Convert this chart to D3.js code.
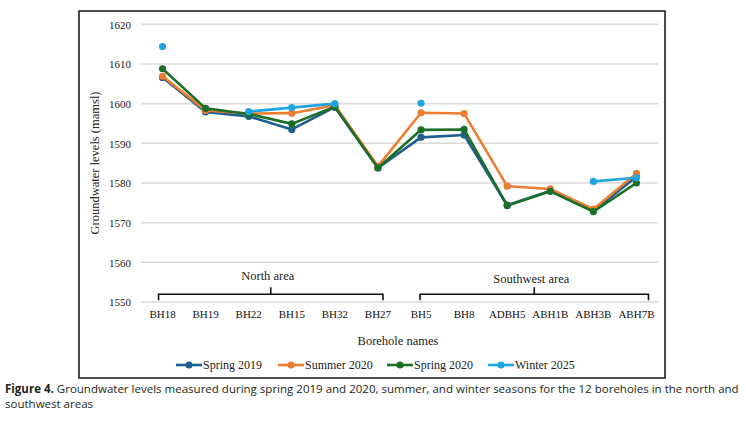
<!DOCTYPE html>
<html><head><meta charset="utf-8">
<script src="https://cdn.jsdelivr.net/npm/d3@7/dist/d3.min.js"></script>
<style>
body{margin:0;background:#fff;}
svg{display:block;}
</style></head>
<body>
<svg id="chart" width="746" height="424"></svg>
<script>
const categories = ["BH18","BH19","BH22","BH15","BH32","BH27","BH5","BH8","ADBH5","ABH1B","ABH3B","ABH7B"];
const spring2019 = [1606.6,1597.9,1596.8,1593.5,1599.1,1583.8,1591.5,1592.1,1574.4,1578.0,1573.0,1581.6];
const summer2020 = [1606.9,1598.3,1597.5,1597.6,1599.6,1584.2,1597.7,1597.5,1579.2,1578.5,1573.4,1582.4];
const spring2020 = [1608.8,1598.8,1597.4,1594.9,1599.2,1583.8,1593.4,1593.5,1574.3,1577.9,1572.8,1580.0];
const winter2025 = [1614.4,null,1598.0,1599.0,1600.0,null,1600.1,null,null,null,1580.4,1581.3];
const yTicks = [1550,1560,1570,1580,1590,1600,1610,1620];
const seriesNames = ["Spring 2019","Summer 2020","Spring 2020","Winter 2025"];
const seriesColors = ["#1f5f8e","#ed7d31","#1b6f27","#1fa5df"];
const areas = [
  {name:"North area", from:"BH18", to:"BH27"},
  {name:"Southwest area", from:"BH5", to:"ABH7B"}
];

const svg = d3.select("#chart");
const serif = "'Liberation Serif','Times New Roman',serif";

// frame
svg.append("rect").attr("x",79).attr("y",11).attr("width",586).attr("height",367)
  .attr("fill","none").attr("stroke","#111").attr("stroke-width",1.5);

const x = d3.scaleBand().domain(categories).range([141,658]);
const cx = d => x(d) + x.bandwidth()/2;
const y = d3.scaleLinear().domain([1550,1620]).range([302,24.3]);

// grid
svg.append("g").selectAll("line").data(yTicks).join("line")
  .attr("x1",141).attr("x2",658).attr("y1",d=>y(d)).attr("y2",d=>y(d))
  .attr("stroke","#d9d9d9").attr("stroke-width",1.5);

// y axis labels
const yAxis = d3.axisLeft(y).tickValues(yTicks).tickSize(0).tickPadding(0).tickFormat(d3.format("d"));
const gy = svg.append("g").attr("transform","translate(131,0)").call(yAxis);
gy.select(".domain").remove();
gy.selectAll("text").attr("font-family",serif).attr("font-size",11).attr("fill","#222").attr("dy","0.35em");

// x axis labels
const xAxis = d3.axisBottom(x).tickSize(0).tickPadding(0);
const gx = svg.append("g").attr("transform","translate(0,310)").call(xAxis);
gx.select(".domain").remove();
gx.selectAll("text").attr("font-family",serif).attr("font-size",11).attr("fill","#111").attr("dy","0.71em");

// axis titles
svg.append("text").attr("transform","translate(99,163) rotate(-90)").attr("text-anchor","middle")
  .attr("font-family",serif).attr("font-size",12.5).attr("fill","#222").text("Groundwater levels (mamsl)");
svg.append("text").attr("x",398).attr("y",345).attr("text-anchor","middle")
  .attr("font-family",serif).attr("font-size",12.5).attr("fill","#222").text("Borehole names");

// brackets
const bracketPad = [[-4,5],[-1,12]];
areas.forEach((a,i)=>{
  const x1 = cx(a.from)+bracketPad[i][0], x2 = cx(a.to)+bracketPad[i][1];
  const by = 294.3, mid = (x1+x2)/2;
  svg.append("path").attr("d",`M${x1},${by+6}V${by}H${x2}V${by+6}M${mid},${by}V${by-7}`)
    .attr("fill","none").attr("stroke","#111").attr("stroke-width",1.6);
  svg.append("text").attr("x",mid-3).attr("y",i===0?279.5:282.5).attr("text-anchor","middle")
    .attr("font-family",serif).attr("font-size",12.5).attr("fill","#222").text(a.name);
});

// series
const allSeries = [spring2019,summer2020,spring2020,winter2025];
const line = d3.line().defined(d=>d.v!==null).x(d=>cx(d.c)).y(d=>y(d.v));
allSeries.forEach((vals,i)=>{
  const data = categories.map((c,j)=>({c, v: vals[j]}));
  const g = svg.append("g");
  g.append("path").datum(data).attr("d",line).attr("fill","none")
    .attr("stroke",seriesColors[i]).attr("stroke-width",2.6).attr("stroke-linejoin","round");
  g.selectAll("circle").data(data.filter(d=>d.v!==null)).join("circle")
    .attr("cx",d=>cx(d.c)).attr("cy",d=>y(d.v)).attr("r",3.6).attr("fill",seriesColors[i]);
});

// legend
const legendX = [176,278,387,488];
const ly = 365;
seriesNames.forEach((n,i)=>{
  const g = svg.append("g").attr("transform",`translate(${legendX[i]},${ly})`);
  g.append("line").attr("x1",0).attr("x2",26).attr("stroke",seriesColors[i]).attr("stroke-width",2.6);
  g.append("circle").attr("cx",13).attr("r",3.6).attr("fill",seriesColors[i]);
  g.append("text").attr("x",27).attr("y",4).attr("font-family",serif).attr("font-size",12)
    .attr("fill","#222").text(n);
});

// caption
const cap = svg.append("text").attr("font-family","'Open Sans','Noto Sans',sans-serif").attr("font-size",12).attr("fill","#231f20");
const l1 = cap.append("tspan").attr("x",5).attr("y",393);
l1.append("tspan").attr("font-weight","bold").text("Figure 4.");
l1.append("tspan").text(" Groundwater levels measured during spring 2019 and 2020, summer, and winter seasons for the 12 boreholes in the north and");
cap.append("tspan").attr("x",5).attr("y",408).text("southwest areas");
// fit first caption line to the width seen in the reference
const w = cap.node().getBBox().width;
const target = 735;
if (w > target) cap.attr("font-size", 12 * target / w);
</script>
</body></html>
